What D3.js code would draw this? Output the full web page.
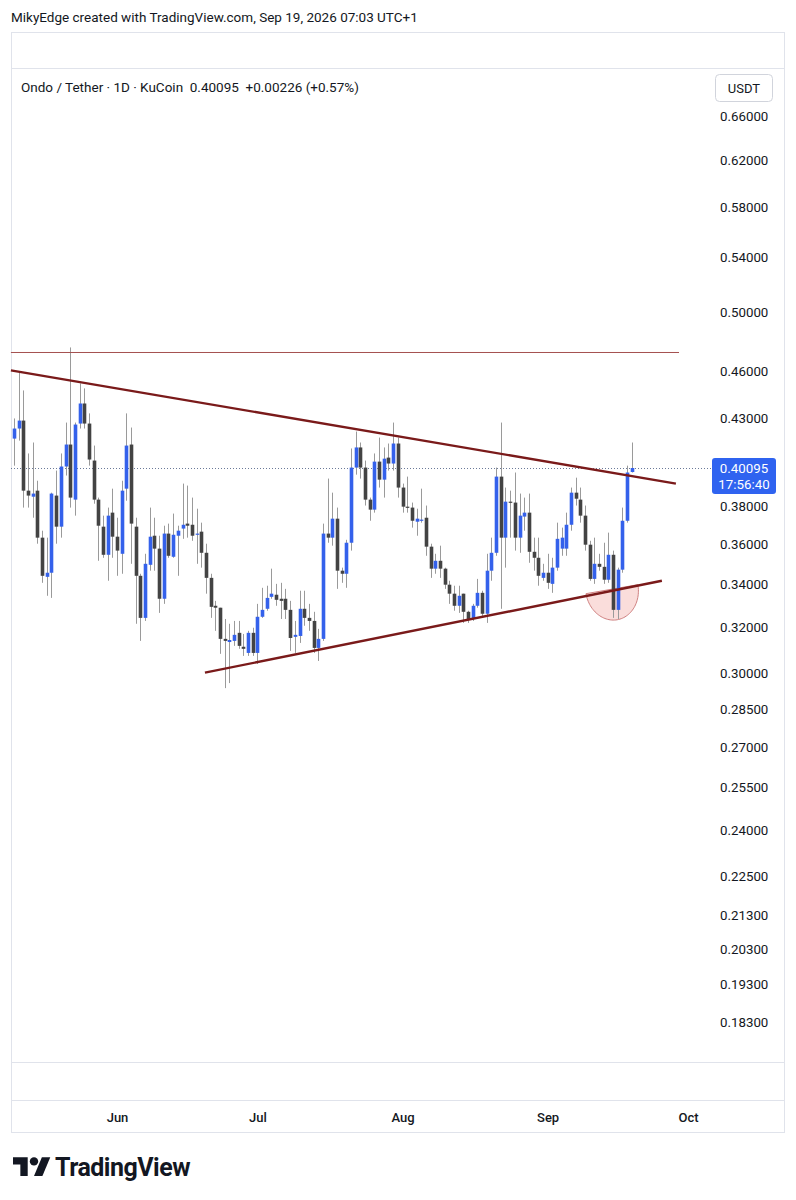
<!DOCTYPE html>
<html><head><meta charset="utf-8">
<script src="https://cdn.jsdelivr.net/npm/d3@7"></script>
<style>body{margin:0;background:#fff;} svg{display:block;font-family:Roboto,"Noto Sans",sans-serif;}</style>
</head><body><svg id="c" width="796" height="1200"></svg>
<script>
// ---------------- data ----------------
const firstDay = "2026-05-10";
const opens = [0.4180,0.4240,0.4288,0.3883,0.3850,0.3883,0.3633,0.3437,0.3457,0.3856,
0.3690,0.4018,0.4145,0.3834,0.4270,0.4393,0.4270,0.4052,0.3834,0.3690,
0.3546,0.3764,0.3638,0.3551,0.3894,0.4145,0.3690,0.3442,0.3243,0.3496,
0.3643,0.3577,0.3332,0.3654,0.3536,0.3643,0.3680,0.3706,0.3700,0.3648,
0.3664,0.3556,0.3432,0.3299,0.3290,0.3148,0.3134,0.3139,0.3175,0.3113,
0.3086,0.3175,0.3086,0.3248,0.3285,0.3341,0.3351,0.3332,0.3332,0.3280,
0.3157,0.3161,0.3285,0.3243,0.3229,0.3108,0.3148,0.3654,0.3633,0.3732,
0.3467,0.3452,0.3607,0.4012,0.4128,0.4012,0.3834,0.3780,0.4046,0.3944,
0.4069,0.4035,0.4151,0.3900,0.3796,0.3791,0.3716,0.3721,0.3737,0.3587,
0.3477,0.3516,0.3477,0.3399,0.3356,0.3299,0.3356,0.3271,0.3238,0.3299,
0.3360,0.3262,0.3467,0.3556,0.3961,0.3633,0.3823,0.3818,0.3633,0.3743,
0.3764,0.3561,0.3531,0.3432,0.3457,0.3403,0.3482,0.3577,0.3577,0.3700,
0.3872,0.3834,0.3748,0.3597,0.3427,0.3501,0.3486,0.3423,0.3546,0.3280,
0.3472,0.3721,0.39869];
const highs = [0.4301,0.4589,0.4475,0.4093,0.4157,0.3938,0.3669,0.3633,0.3872,0.3995,
0.4093,0.4276,0.4756,0.4276,0.4520,0.4488,0.4332,0.4139,0.3845,0.3748,
0.3791,0.3894,0.3737,0.3938,0.4332,0.4246,0.3737,0.3452,0.3551,0.3791,
0.3737,0.3643,0.3695,0.3706,0.3759,0.3695,0.3922,0.3911,0.3845,0.3785,
0.3711,0.3602,0.3452,0.3322,0.3290,0.3238,0.3216,0.3229,0.3229,0.3170,
0.3184,0.3198,0.3308,0.3384,0.3394,0.3477,0.3403,0.3408,0.3379,0.3322,
0.3229,0.3370,0.3370,0.3308,0.3271,0.3193,0.3706,0.3950,0.3872,0.3791,
0.3482,0.3622,0.4122,0.4222,0.4157,0.4052,0.3845,0.4093,0.4186,0.4128,
0.4151,0.4276,0.4186,0.3922,0.3961,0.3818,0.3785,0.3894,0.3802,0.3602,
0.3551,0.3592,0.3482,0.3418,0.3394,0.3394,0.3356,0.3276,0.3308,0.3427,
0.3370,0.3551,0.3633,0.4012,0.4276,0.3900,0.3883,0.3984,0.3867,0.3845,
0.3867,0.3633,0.3633,0.3501,0.3551,0.3531,0.3711,0.3685,0.3764,0.3900,
0.3955,0.3900,0.3802,0.3617,0.3633,0.3551,0.3607,0.3659,0.3567,0.3482,
0.3791,0.4023,0.4157];
const lows = [0.4023,0.4168,0.3791,0.3791,0.3737,0.3602,0.3408,0.3346,0.3336,0.3602,
0.3633,0.3967,0.3791,0.3748,0.4240,0.4240,0.4023,0.3812,0.3516,0.3531,
0.3418,0.3531,0.3442,0.3452,0.3828,0.3501,0.3216,0.3139,0.3229,0.3467,
0.3467,0.3266,0.3308,0.3531,0.3531,0.3442,0.3627,0.3633,0.3617,0.3501,
0.3482,0.3356,0.3243,0.3184,0.3082,0.2936,0.2957,0.3117,0.3104,0.3073,
0.3073,0.3073,0.3038,0.3243,0.3276,0.3332,0.3299,0.3238,0.3238,0.3095,
0.3086,0.3130,0.3207,0.3184,0.3086,0.3051,0.3139,0.3607,0.3592,0.3379,
0.3408,0.3384,0.3567,0.3972,0.3950,0.3802,0.3721,0.3764,0.3900,0.3845,
0.3995,0.3995,0.3845,0.3764,0.3764,0.3685,0.3643,0.3711,0.3541,0.3432,
0.3452,0.3432,0.3379,0.3308,0.3276,0.3266,0.3220,0.3220,0.3229,0.3290,
0.3243,0.3220,0.3418,0.3541,0.3285,0.3482,0.3633,0.3567,0.3556,0.3669,
0.3506,0.3467,0.3394,0.3418,0.3379,0.3360,0.3467,0.3541,0.3541,0.3669,
0.3802,0.3711,0.3567,0.3418,0.3403,0.3467,0.3403,0.3408,0.3243,0.3238,
0.3457,0.3711,0.3984];
const closes = [0.4240,0.4288,0.3883,0.3856,0.3867,0.3633,0.3442,0.3457,0.3867,0.3690,
0.4018,0.4145,0.3845,0.4264,0.4393,0.4270,0.4058,0.3834,0.3695,0.3546,
0.3748,0.3638,0.3567,0.3883,0.4139,0.3706,0.3442,0.3243,0.3501,0.3638,
0.3577,0.3332,0.3654,0.3541,0.3648,0.3669,0.3700,0.3695,0.3643,0.3654,
0.3556,0.3432,0.3294,0.3290,0.3148,0.3139,0.3143,0.3166,0.3117,0.3104,
0.3175,0.3086,0.3248,0.3280,0.3336,0.3356,0.3327,0.3322,0.3280,0.3152,
0.3166,0.3285,0.3243,0.3229,0.3108,0.3148,0.3654,0.3633,0.3732,0.3467,
0.3452,0.3607,0.4012,0.4128,0.4012,0.3834,0.3780,0.4046,0.3944,0.4063,
0.4035,0.4151,0.3900,0.3796,0.3791,0.3721,0.3732,0.3727,0.3587,0.3477,
0.3516,0.3477,0.3399,0.3356,0.3299,0.3346,0.3271,0.3238,0.3299,0.3360,
0.3262,0.3467,0.3556,0.3961,0.3633,0.3823,0.3818,0.3633,0.3748,0.3764,
0.3561,0.3531,0.3442,0.3457,0.3408,0.3482,0.3627,0.3633,0.3700,0.3872,
0.3839,0.3748,0.3597,0.3427,0.3501,0.3486,0.3423,0.3546,0.3280,0.3472,
0.3721,0.3984,0.40095];

const priceTicks = [0.66,0.62,0.58,0.54,0.50,0.46,0.43,0.38,0.36,0.34,0.32,0.30,0.285,0.27,0.255,0.24,0.225,0.213,0.203,0.193,0.183];
const monthTicks = ["2026-06-01","2026-07-01","2026-08-01","2026-09-01","2026-10-01"];
const lastPrice = 0.40095;
const countdown = "17:56:40";
const headerText = "MikyEdge created with TradingView.com, Sep 19, 2026 07:03 UTC+1";
const legendText = "Ondo / Tether · 1D · KuCoin  0.40095  +0.00226 (+0.57%)";
const currency = "USDT";

// drawings (date, price)
const resistanceLine = [["2026-05-09T08:00",0.4722],["2026-09-29T02:00",0.4722]];
const upperTrend = [["2026-05-09T08:00",0.4604],["2026-09-28T10:00",0.3922]];
const lowerTrend = [["2026-06-19T19:00",0.3001],["2026-09-25T10:00",0.3418]];
const arcStart = ["2026-09-09T05:00",0.3356];
const arcEnd = ["2026-09-20T07:00",0.3399];
const arcBottom = ["2026-09-15T19:00",0.3234];

// ---------------- chart ----------------
const svg = d3.select("#c");
const pT = d3.utcParse("%Y-%m-%dT%H:%M"), pD = d3.utcParse("%Y-%m-%d");
const day0 = pD(firstDay);
const candles = opens.map((o,i)=>({date:d3.utcDay.offset(day0,i),o,h:highs[i],l:lows[i],c:closes[i]}));

const x = d3.scaleUtc().domain([pD("2026-06-01"),pD("2026-10-01")]).range([117,688]);
const y = d3.scaleLog().domain([0.183,0.66]).range([1022,116]);

const border="#e0e3eb", txt="#131722";
// frame
svg.append("rect").attr("x",11.5).attr("y",32.5).attr("width",773).attr("height",1100).attr("fill","none").attr("stroke",border);
[68.5,1062.5,1100.5].forEach(yy=>svg.append("line").attr("x1",11).attr("x2",785).attr("y1",yy).attr("y2",yy).attr("stroke",border));

svg.append("text").attr("x",11).attr("y",22).attr("font-size",13.5).attr("fill",txt).text(headerText);
svg.append("text").attr("x",21).attr("y",92).attr("font-size",13.5).attr("fill",txt).attr("xml:space","preserve").style("white-space","pre").text(legendText);

// currency box
svg.append("rect").attr("x",715.5).attr("y",74.5).attr("width",57).attr("height",27).attr("rx",4).attr("fill","#fff").attr("stroke","#d1d4dc");
svg.append("text").attr("x",744).attr("y",92.5).attr("text-anchor","middle").attr("font-size",13).attr("fill",txt).text(currency);

// price axis
const yAxis = d3.axisRight(y).tickValues(priceTicks).tickSize(0).tickPadding(0).tickFormat(d3.format(".5f"));
const ga = svg.append("g").attr("transform","translate(720,0)").call(yAxis);
ga.select(".domain").remove();
ga.selectAll("text").attr("font-size",13.3).attr("fill",txt).attr("font-family","Roboto");

// time axis
const xAxis = d3.axisBottom(x).tickValues(monthTicks.map(pD)).tickSize(0).tickPadding(0).tickFormat(d3.utcFormat("%b"));
const gx = svg.append("g").attr("transform","translate(0,1113)").call(xAxis);
gx.select(".domain").remove();
gx.selectAll("text").attr("font-size",13).attr("font-weight",500).attr("fill",txt).attr("font-family","Roboto");

// current price dotted line
svg.append("line").attr("x1",11).attr("x2",712).attr("y1",Math.round(y(lastPrice))+0.5).attr("y2",Math.round(y(lastPrice))+0.5)
  .attr("stroke","#6b7a99").attr("stroke-dasharray","1 2").attr("stroke-width",1);

// arc highlight
(function(){
  const P=a=>[x(pT(a[0])),y(a[1])];
  const p0=P(arcStart),p1=P(arcEnd),pb=P(arcBottom);
  const mid=[(p0[0]+p1[0])/2,(p0[1]+p1[1])/2];
  const half=Math.hypot(p1[0]-p0[0],p1[1]-p0[1])/2;
  const u=[(p1[0]-p0[0])/(2*half),(p1[1]-p0[1])/(2*half)];
  let n=[-u[1],u[0]];
  if((pb[0]-mid[0])*n[0]+(pb[1]-mid[1])*n[1]<0) n=[-n[0],-n[1]];
  const depth=(pb[0]-mid[0])*n[0]+(pb[1]-mid[1])*n[1];
  const pts=d3.range(0,61).map(k=>{const t=Math.PI*k/60;return [mid[0]-half*Math.cos(t)*u[0]+depth*Math.sin(t)*n[0], mid[1]-half*Math.cos(t)*u[1]+depth*Math.sin(t)*n[1]];});
  svg.append("path").attr("d",d3.line()(pts)+"Z").attr("fill","rgba(242,165,160,0.38)").attr("stroke","#cf8080").attr("stroke-width",1);
})();

// candles
const bw=3.6;
const up="#3461eb", down="#434343";
const gc=svg.append("g");
gc.selectAll("line.w").data(candles).join("line")
  .attr("x1",d=>Math.round(x(d.date))+0.5).attr("x2",d=>Math.round(x(d.date))+0.5)
  .attr("y1",d=>y(d.h)).attr("y2",d=>y(d.l)).attr("stroke","#9a9a9a").attr("stroke-width",1);
gc.selectAll("rect.b").data(candles).join("rect")
  .attr("x",d=>Math.round(x(d.date))+0.5-bw/2)
  .attr("width",bw)
  .attr("y",d=>y(Math.max(d.o,d.c)))
  .attr("height",d=>Math.max(1.2,Math.abs(y(d.o)-y(d.c))))
  .attr("fill",d=>d.c>=d.o?up:down);

// trend lines
const lineGen=d3.line().x(d=>x(pT(d[0]))).y(d=>y(d[1]));
svg.append("path").attr("d",lineGen(resistanceLine)).attr("stroke","#a4504f").attr("stroke-width",1).attr("fill","none");
svg.append("path").attr("d",lineGen(upperTrend)).attr("stroke","#7a1a1a").attr("stroke-width",2.4).attr("fill","none");
svg.append("path").attr("d",lineGen(lowerTrend)).attr("stroke","#7a1a1a").attr("stroke-width",2.4).attr("fill","none");

// last price label
const ly=y(lastPrice);
svg.append("rect").attr("x",712).attr("y",ly-10).attr("width",64).attr("height",36).attr("rx",3).attr("fill","#2f63f0");
svg.append("text").attr("x",744).attr("y",ly+4.5).attr("text-anchor","middle").attr("font-size",13.3).attr("fill","#fff").text(d3.format(".5f")(lastPrice));
svg.append("text").attr("x",744).attr("y",ly+21).attr("text-anchor","middle").attr("font-size",13.3).attr("fill","#fff").text(countdown);

// TradingView logo
const lg=svg.append("g").attr("transform","translate(13,1153) scale(1.05)").attr("fill",txt);
lg.append("path").attr("d","M14 22H7V11H0V4h14v18z");
lg.append("circle").attr("cx",20).attr("cy",8).attr("r",4);
lg.append("path").attr("d","M28 22h-8l7.5-18h8L28 22z");
svg.append("text").attr("x",55).attr("y",1176).attr("font-size",25).attr("font-weight",700).attr("letter-spacing",-0.5).attr("fill",txt).text("TradingView");
</script></body></html>
